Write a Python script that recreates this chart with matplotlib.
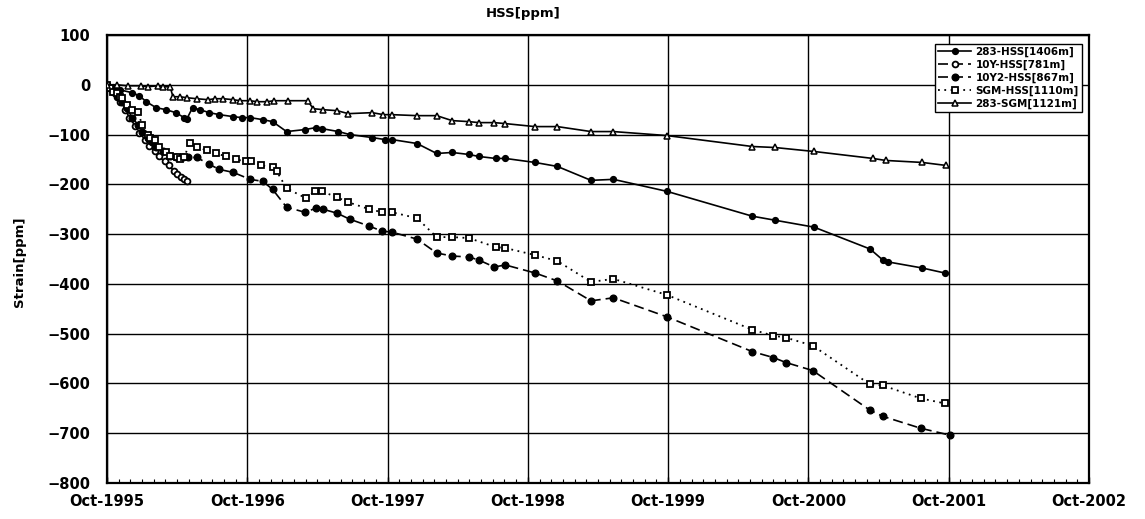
import matplotlib
matplotlib.use("Agg")
import matplotlib.pyplot as plt
import numpy as np

plt.rcParams['font.family'] = ['DejaVu Sans']
plt.rcParams['font.weight'] = 'bold'

# ---- data (decimal years, strain in ppm) ----
t_283hss = [1995.75, 1995.79, 1995.84, 1995.93, 1995.98, 1996.03, 1996.10, 1996.17, 1996.24,
            1996.30, 1996.32, 1996.36, 1996.41, 1996.48, 1996.55, 1996.65, 1996.71, 1996.77,
            1996.86, 1996.93, 1997.03, 1997.16, 1997.24, 1997.28, 1997.40, 1997.48, 1997.64,
            1997.73, 1997.78, 1997.96, 1998.10, 1998.21, 1998.33, 1998.40, 1998.52, 1998.59,
            1998.80, 1998.96, 1999.20, 1999.36, 1999.74, 2000.35, 2000.51, 2000.79, 2001.19,
            2001.28, 2001.32, 2001.56, 2001.72]
v_283hss = [0, -4, -10, -16, -22, -34, -46, -50, -56, -66, -68, -46, -50, -56, -60, -64, -66,
            -66, -70, -74, -94, -90, -86, -88, -94, -100, -106, -110, -110, -118, -138, -136,
            -140, -144, -148, -148, -156, -164, -192, -190, -214, -264, -272, -286, -330, -352,
            -356, -368, -378]

t_10y = [1995.75, 1995.77, 1995.79, 1995.82, 1995.84, 1995.88, 1995.91, 1995.95, 1995.98,
         1996.02, 1996.05, 1996.09, 1996.12, 1996.16, 1996.19, 1996.23, 1996.25, 1996.28,
         1996.30, 1996.32]
v_10y = [0, -6, -14, -24, -34, -50, -66, -82, -96, -110, -122, -134, -144, -154, -162, -174,
         -180, -186, -190, -194]

t_10y2 = [1995.75, 1995.77, 1995.82, 1995.86, 1995.89, 1995.93, 1995.97, 1996.00, 1996.04,
          1996.07, 1996.10, 1996.15, 1996.20, 1996.24, 1996.29, 1996.33, 1996.39, 1996.48,
          1996.55, 1996.65, 1996.77, 1996.86, 1996.93, 1997.03, 1997.16, 1997.24, 1997.29,
          1997.39, 1997.48, 1997.62, 1997.71, 1997.78, 1997.96, 1998.10, 1998.21, 1998.33,
          1998.40, 1998.51, 1998.59, 1998.80, 1998.96, 1999.20, 1999.36, 1999.74, 2000.35,
          2000.50, 2000.59, 2000.78, 2001.19, 2001.28, 2001.55, 2001.76]
v_10y2 = [0, -6, -20, -34, -46, -66, -80, -94, -106, -114, -126, -134, -144, -146, -146, -146,
          -146, -160, -170, -176, -190, -194, -210, -246, -256, -248, -250, -258, -270, -284,
          -294, -296, -310, -338, -344, -346, -352, -366, -362, -378, -394, -434, -428, -466,
          -536, -548, -558, -574, -654, -666, -690, -704]

t_sgm = [1995.75, 1995.77, 1995.79, 1995.82, 1995.84, 1995.86, 1995.89, 1995.93, 1995.97,
         1996.00, 1996.04, 1996.06, 1996.09, 1996.12, 1996.17, 1996.20, 1996.25, 1996.27,
         1996.30, 1996.34, 1996.39, 1996.46, 1996.53, 1996.60, 1996.67, 1996.74, 1996.78,
         1996.85, 1996.93, 1996.96, 1997.03, 1997.17, 1997.23, 1997.28, 1997.39, 1997.47,
         1997.62, 1997.71, 1997.78, 1997.96, 1998.10, 1998.21, 1998.33, 1998.52, 1998.59,
         1998.80, 1998.96, 1999.20, 1999.36, 1999.74, 2000.35, 2000.50, 2000.59, 2000.78,
         2001.19, 2001.28, 2001.55, 2001.72]
v_sgm = [0, -6, -14, -16, -24, -26, -40, -50, -54, -80, -100, -106, -110, -124, -136, -144,
         -146, -150, -146, -116, -124, -132, -138, -144, -150, -154, -154, -162, -166, -174,
         -208, -228, -214, -214, -226, -236, -250, -256, -256, -268, -306, -306, -308, -326,
         -328, -342, -354, -396, -390, -422, -492, -504, -508, -524, -602, -604, -630, -640]

t_283sgm = [1995.75, 1995.82, 1995.90, 1995.99, 1996.04, 1996.11, 1996.15, 1996.20, 1996.22,
            1996.27, 1996.32, 1996.39, 1996.47, 1996.52, 1996.58, 1996.65, 1996.70, 1996.77,
            1996.82, 1996.89, 1996.94, 1997.04, 1997.18, 1997.22, 1997.29, 1997.39, 1997.47,
            1997.64, 1997.72, 1997.78, 1997.96, 1998.10, 1998.21, 1998.33, 1998.40, 1998.51,
            1998.59, 1998.80, 1998.96, 1999.20, 1999.36, 1999.74, 2000.35, 2000.51, 2000.79,
            2001.21, 2001.30, 2001.56, 2001.73]
v_283sgm = [0, 0, -2, -2, -4, -2, -4, -4, -24, -24, -26, -28, -30, -28, -28, -30, -32, -32,
            -34, -34, -32, -32, -32, -48, -50, -52, -58, -56, -60, -60, -62, -62, -72, -74,
            -76, -76, -78, -84, -84, -94, -94, -102, -124, -126, -134, -148, -152, -156, -162]

labels = ['283-HSS[1406m]', '10Y-HSS[781m]', '10Y2-HSS[867m]', 'SGM-HSS[1110m]', '283-SGM[1121m]']
x_years = [1995, 1996, 1997, 1998, 1999, 2000, 2001, 2002]
x_ticklabels = ['Oct-%d' % y for y in x_years]
y_ticks = [100, 0, -100, -200, -300, -400, -500, -600, -700, -800]

# ---- figure ----
W, H = 1145, 519
fig = plt.figure(figsize=(W / 100, H / 100), dpi=100)
L, R, T, B = 107, 1089, 35, 483
ax = fig.add_axes([L / W, 1 - B / H, (R - L) / W, (B - T) / H])

ms = 4.2
ax.plot(t_283hss, v_283hss, color='black', lw=1.2, marker='o', ms=ms, mfc='black', mec='black',
        label=labels[0], zorder=3)
ax.plot(t_10y, v_10y, color='black', lw=1.2, ls=(0, (6, 3)), marker='o', ms=ms, mfc='white',
        mec='black', mew=1.3, label=labels[1], zorder=3)
ax.plot(t_10y2, v_10y2, color='black', lw=1.2, ls=(0, (6, 3)), marker='o', ms=4.8, mfc='black',
        mec='black', label=labels[2], zorder=3)
ax.plot(t_sgm, v_sgm, color='black', lw=1.3, ls=(0, (1, 2.5)), marker='s', ms=ms, mfc='white',
        mec='black', mew=1.3, label=labels[3], zorder=3)
ax.plot(t_283sgm, v_283sgm, color='black', lw=1.2, marker='^', ms=ms, mfc='white', mec='black',
        mew=1.1, label=labels[4], zorder=3)

xt = [y + 0.75 for y in x_years]
ax.set_xlim(xt[0], xt[-1])
ax.set_ylim(-800, 100)
ax.set_xticks(xt)
ax.set_xticklabels(x_ticklabels, fontsize=10.5, fontweight='bold')
ax.set_xticks(np.arange(xt[0], xt[-1] + 1e-6, 1 / 12), minor=True)
ax.set_yticks(y_ticks)
ax.set_yticklabels([str(v).replace('-', '\u2212') for v in y_ticks], fontsize=10.5, fontweight='bold')
ax.tick_params(axis='x', which='major', direction='in', length=4, width=1, pad=8)
ax.tick_params(axis='x', which='minor', direction='in', length=3, width=0.8)
ax.tick_params(axis='y', which='major', length=0, pad=12)
ax.grid(True, which='major', color='black', lw=1.0)
for s in ax.spines.values():
    s.set_linewidth(1.6)
    s.set_color('black')

fig.text(523 / W, 1 - 13 / H, 'HSS[ppm]', ha='center', va='center', fontsize=9.5, fontweight='bold')
fig.text(20 / W, 1 - 262 / H, 'Strain[ppm]', ha='center', va='center', rotation=90,
         fontsize=9.5, fontweight='bold')

leg = ax.legend(loc='upper right', bbox_to_anchor=(1082 / W, 1 - 44 / H),
                bbox_transform=fig.transFigure, borderaxespad=0, fancybox=False,
                framealpha=1, edgecolor='black', prop={'size': 7.5, 'weight': 'bold'},
                handlelength=3.2, labelspacing=0.25, borderpad=0.3, handletextpad=0.4)
leg.get_frame().set_linewidth(1.0)

fig.savefig('out.png', dpi=100)
